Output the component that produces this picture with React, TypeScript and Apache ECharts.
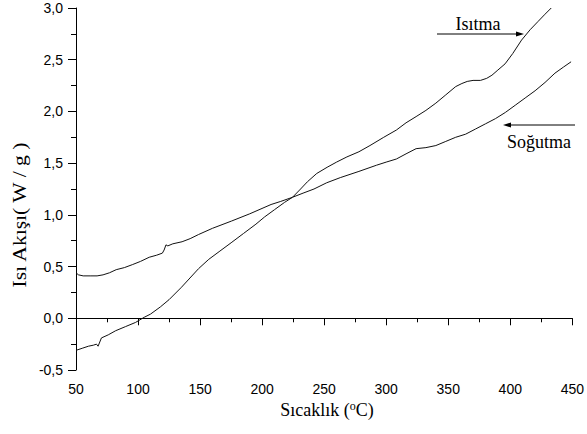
import React, { useEffect, useRef } from "react";
import * as echarts from "echarts";

const heatingX = [50, 55, 60, 64, 66.5, 67.8, 70.5, 76, 82, 90, 98, 105, 110, 118, 125, 135, 148.8, 157, 166, 175, 185, 195, 202, 210, 218, 224.5, 231, 236.5, 244, 252.4, 260, 268.3, 278, 286.9, 298, 308.2, 316, 324.1, 332, 340, 348, 356, 361, 365.3, 370, 376, 381, 385.2, 390, 395.8, 402, 409.1, 416, 422.4, 428, 433];
const heatingY = [-0.31, -0.29, -0.27, -0.26, -0.25, -0.27, -0.19, -0.16, -0.12, -0.08, -0.04, 0.01, 0.04, 0.11, 0.18, 0.30, 0.48, 0.57, 0.65, 0.73, 0.82, 0.91, 0.98, 1.05, 1.12, 1.17, 1.25, 1.32, 1.40, 1.46, 1.51, 1.56, 1.61, 1.67, 1.75, 1.82, 1.89, 1.95, 2.01, 2.08, 2.16, 2.24, 2.27, 2.29, 2.30, 2.30, 2.32, 2.35, 2.40, 2.46, 2.56, 2.69, 2.79, 2.87, 2.94, 3.0];

const coolingX = [50, 52, 55.8, 62, 67, 71.8, 77, 82.4, 89, 95.7, 102, 109, 115, 119.6, 121, 122.5, 124, 128, 135.5, 142, 148.8, 160, 175.3, 190, 207.2, 215, 224.5, 233, 241.8, 252, 263, 278, 292.2, 300, 308.2, 316, 324.1, 332, 340, 348, 356, 364, 372, 380, 388, 396, 404, 412, 420, 428, 436, 443, 449];
const coolingY = [0.44, 0.42, 0.41, 0.41, 0.41, 0.42, 0.44, 0.47, 0.49, 0.52, 0.55, 0.59, 0.61, 0.63, 0.66, 0.71, 0.70, 0.72, 0.74, 0.77, 0.81, 0.87, 0.94, 1.01, 1.10, 1.13, 1.17, 1.21, 1.25, 1.31, 1.36, 1.42, 1.48, 1.51, 1.54, 1.59, 1.64, 1.65, 1.67, 1.71, 1.75, 1.78, 1.83, 1.88, 1.93, 1.99, 2.06, 2.13, 2.20, 2.28, 2.37, 2.43, 2.48];

const xTitle = "Sıcaklık (";
const yTitle = "Isı Akışı( W / g )";
const heatingLabel = "Isıtma";
const coolingLabel = "Soğutma";

const pair = (xs: number[], ys: number[]) => xs.map((x, i) => [x, ys[i]]);

export default function App() {
  const ref = useRef<HTMLDivElement>(null);
  useEffect(() => {
    if (!ref.current) return;
    const chart = echarts.init(ref.current, null, { renderer: "svg" });
    const sans = "Liberation Sans";
    const serif = "Liberation Serif";
    const baseAxis = {
      axisLine: { show: true, lineStyle: { color: "#000", width: 1 } },
      splitLine: { show: false },
    };
    const serifText = (size: number) => ({
      fontFamily: serif,
      fontSize: size,
      fill: "#000",
    });
    chart.setOption({
      animation: false,
      backgroundColor: "#fff",
      grid: { left: 76, right: 9, top: 8, bottom: 64, containLabel: false },
      xAxis: {
        type: "value",
        min: 50,
        max: 450,
        interval: 50,
        ...baseAxis,
        axisTick: { show: true, inside: false, length: 7, lineStyle: { color: "#000" } },
        minorTick: { show: true, splitNumber: 2, length: 4, lineStyle: { color: "#000" } },
        axisLabel: { color: "#000", fontFamily: sans, fontSize: 14, margin: 12 },
      },
      yAxis: {
        type: "value",
        min: -0.5,
        max: 3.0,
        interval: 0.5,
        ...baseAxis,
        axisTick: { show: true, inside: false, length: 8, lineStyle: { color: "#000" } },
        minorTick: { show: true, splitNumber: 2, length: 5, lineStyle: { color: "#000" } },
        axisLabel: {
          color: "#000",
          fontFamily: sans,
          fontSize: 14,
          margin: 13,
          formatter: (v: number) => v.toFixed(1).replace(".", ","),
        },
      },
      series: [
        {
          type: "line",
          name: heatingLabel,
          data: pair(heatingX, heatingY),
          showSymbol: false,
          lineStyle: { color: "#111", width: 1 },
        },
        {
          type: "line",
          name: coolingLabel,
          data: pair(coolingX, coolingY),
          showSymbol: false,
          lineStyle: { color: "#111", width: 1 },
        },
      ],
      graphic: [
        {
          type: "text",
          x: 20,
          y: 215,
          rotation: Math.PI / 2,
          scaleX: 1.2,
          style: {
            text: yTitle,
            ...serifText(18),
            align: "center",
            verticalAlign: "middle",
          },
        },
        {
          type: "text",
          x: 327,
          y: 410,
          style: {
            text: "{a|" + xTitle + "}{s|o}{a|C)}",
            align: "center",
            verticalAlign: "middle",
            rich: {
              a: { fontFamily: serif, fontSize: 18, color: "#000" },
              s: { fontFamily: serif, fontSize: 12, color: "#000", verticalAlign: "top", padding: [0, 0, 8, 0] },
            },
          },
        },
        {
          type: "text",
          x: 478,
          y: 24,
          style: { text: heatingLabel, ...serifText(18), align: "center", verticalAlign: "middle" },
        },
        {
          type: "line",
          shape: { x1: 437, y1: 34, x2: 517, y2: 34 },
          style: { stroke: "#000", lineWidth: 1 },
        },
        {
          type: "polygon",
          shape: { points: [[524, 34], [516, 31.5], [516, 36.5]] },
          style: { fill: "#000" },
        },
        {
          type: "text",
          x: 539,
          y: 142,
          style: { text: coolingLabel, ...serifText(18), align: "center", verticalAlign: "middle" },
        },
        {
          type: "line",
          shape: { x1: 510, y1: 125, x2: 575, y2: 125 },
          style: { stroke: "#000", lineWidth: 1 },
        },
        {
          type: "polygon",
          shape: { points: [[503, 125], [511, 122.5], [511, 127.5]] },
          style: { fill: "#000" },
        },
      ],
    });
    return () => chart.dispose();
  }, []);
  return (
    <div
      ref={ref}
      style={{ position: "absolute", left: 0, top: 0, width: 587, height: 434, background: "#fff" }}
    />
  );
}
